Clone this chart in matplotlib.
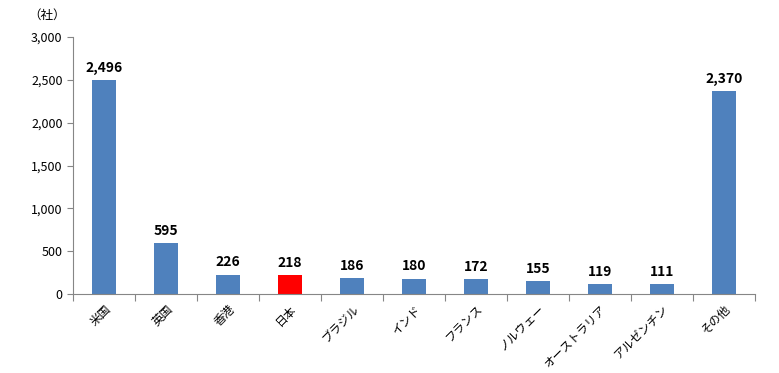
import matplotlib
matplotlib.use("Agg")
import matplotlib.pyplot as plt
import numpy as np
from matplotlib.ticker import FuncFormatter, FixedLocator
from matplotlib.transforms import ScaledTranslation

plt.rcParams['font.family'] = ['Noto Sans CJK JP', 'DejaVu Sans']

categories = ["米国", "英国", "香港", "日本", "ブラジル", "インド", "フランス", "ノルウェー", "オーストラリア", "アルゼンチン", "その他"]
values = [2496, 595, 226, 218, 186, 180, 172, 155, 119, 111, 2370]
highlight = "日本"

blue = "#4F81BD"
red = "#FF0000"
colors = [red if c == highlight else blue for c in categories]

fig = plt.figure(figsize=(7.79, 3.73), dpi=100)
ax = fig.add_axes([73/779, 1-294/373, (755-73)/779, (294-37)/373])

x = np.arange(len(categories))
ax.bar(x, values, width=0.4, color=colors)
for xi, v in zip(x, values):
    ax.text(xi, v + 60, f"{v:,}", ha="center", va="bottom", fontsize=10, fontweight="bold")

ax.set_xlim(-0.5, len(categories) - 0.5)
ax.set_ylim(0, 3000)
ax.set_yticks(np.arange(0, 3001, 500))
ax.yaxis.set_major_formatter(FuncFormatter(lambda v, p: f"{int(v):,}"))
ax.tick_params(axis="y", labelsize=9, length=4, color="#868686", direction="out")

ax.xaxis.set_major_locator(FixedLocator(np.arange(-0.5, len(categories), 1.0)))
ax.xaxis.set_major_formatter(FuncFormatter(lambda v, p: ""))
ax.tick_params(axis="x", which="major", length=5, color="#868686", direction="out")
ax.set_xticks(x, minor=True)
ax.set_xticklabels(categories, minor=True, rotation=45, ha="right", rotation_mode="anchor", fontsize=8.5)
ax.tick_params(axis="x", which="minor", length=0, pad=6)

for s in ["top", "right"]:
    ax.spines[s].set_visible(False)
for s in ["left", "bottom"]:
    ax.spines[s].set_color("#868686")

fig.text(28/779, 1-15/373, "（社）", fontsize=9, ha="left", va="center")

fig.savefig("out.png", dpi=100)
